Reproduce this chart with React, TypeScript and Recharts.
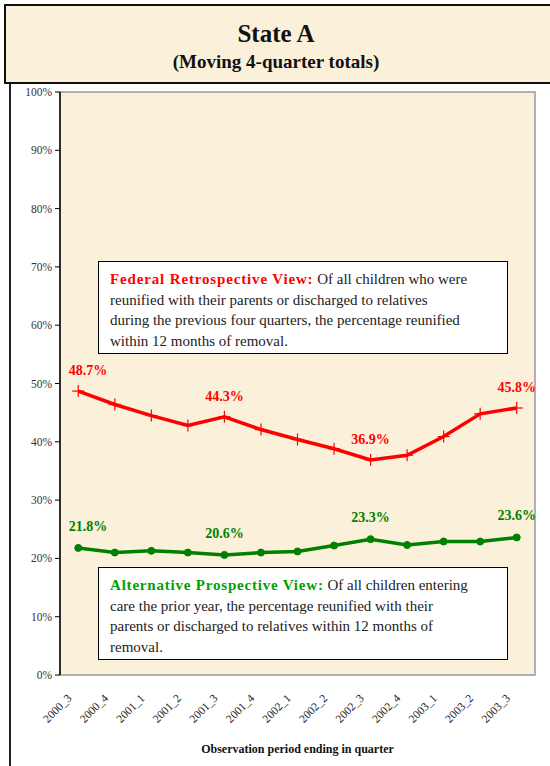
import React from 'react';
import { LineChart, Line, XAxis, YAxis, ReferenceArea, LabelList } from 'recharts';

const quarters = ['2000_3', '2000_4', '2001_1', '2001_2', '2001_3', '2001_4', '2002_1', '2002_2', '2002_3', '2002_4', '2003_1', '2003_2', '2003_3'];
const federal = [48.7, 46.4, 44.5, 42.8, 44.3, 42.1, 40.4, 38.8, 36.9, 37.7, 40.9, 44.8, 45.8];
const alternative = [21.8, 21.0, 21.3, 21.0, 20.6, 21.0, 21.2, 22.2, 23.3, 22.3, 22.9, 22.9, 23.6];
const labeledIdx = [0, 4, 8, 12];
const yTicks = [0, 10, 20, 30, 40, 50, 60, 70, 80, 90, 100];

const data = quarters.map((q, i) => ({
  i,
  q,
  federal: federal[i],
  alternative: alternative[i],
  federalLabel: labeledIdx.includes(i) ? `${federal[i].toFixed(1)}%` : '',
  alternativeLabel: labeledIdx.includes(i) ? `${alternative[i].toFixed(1)}%` : '',
}));
const centerTicks = quarters.map((_, i) => i);
const boundaryTicks = quarters.map((_, i) => i - 0.5).concat([quarters.length - 0.5]);
const xDomain = [-0.5, quarters.length - 0.5];

const SERIF = '"Liberation Serif", "Times New Roman", serif';
const BEIGE = '#FBF0DA';
const RED = '#FF0000';
const GREEN = '#008000';

const PlusDot = (props: any) => {
  const { cx, cy, index } = props;
  if (cx == null || cy == null) return <g key={index} />;
  return (
    <g key={index}>
      <line x1={cx - 6} x2={cx + 6} y1={cy} y2={cy} stroke={RED} strokeWidth={1.2} />
      <line x1={cx} x2={cx} y1={cy - 6} y2={cy + 6} stroke={RED} strokeWidth={1.2} />
    </g>
  );
};

const renderQuarterTick = (props: any) => {
  const { x, y, payload, index } = props;
  const ax = x - 6;
  const ay = y + 24;
  return (
    <text
      key={index}
      x={ax}
      y={ay}
      transform={`rotate(-45 ${ax} ${ay})`}
      textAnchor="end"
      fontFamily={SERIF}
      fontSize={11.5}
      fill="#222"
    >
      {quarters[payload.value]}
    </text>
  );
};

const renderYTick = (props: any) => {
  const { x, y, payload, index } = props;
  return (
    <text key={index} x={x} y={y} dy={4} textAnchor="end" fontFamily={SERIF} fontSize={11.5} fill="#333">
      {`${payload.value}%`}
    </text>
  );
};

const makeLabel = (color: string, off: number) => (p: any) => {
  const vb = p.viewBox || {};
  const rawX = vb.x ?? p.x;
  const y = vb.y ?? p.y;
  if (!p.value) return null;
  const left = (p.parentViewBox && p.parentViewBox.x) || 60;
  const x = Math.max(rawX, left + 28);
  return (
    <text x={x} y={y - off} textAnchor="middle" fontFamily={SERIF} fontSize={14} fontWeight="bold" fill={color}>
      {p.value}
    </text>
  );
};

const boxStyle: React.CSSProperties = {
  position: 'absolute',
  left: 98,
  width: 410,
  height: 93,
  boxSizing: 'border-box',
  border: '1px solid #000',
  background: '#fff',
  fontFamily: SERIF,
  fontSize: 15,
  lineHeight: '20.5px',
  color: '#222',
  padding: '7px 0 0 11px',
  whiteSpace: 'nowrap',
};

export default function App() {
  return (
    <div style={{ position: 'absolute', left: 0, top: 0, width: 550, height: 766, overflow: 'hidden', background: '#fff' }}>
      <div
        style={{
          position: 'absolute',
          left: 4,
          top: 4,
          width: 600,
          height: 80,
          boxSizing: 'border-box',
          border: '2px solid #111',
          background: BEIGE,
        }}
      />
      <div style={{ position: 'absolute', left: 4, top: 4, width: 544, textAlign: 'center', fontFamily: SERIF, fontWeight: 'bold', color: '#111' }}>
        <div style={{ fontSize: 25, marginTop: 16, lineHeight: '28px' }}>State A</div>
        <div style={{ fontSize: 19, marginTop: 2, lineHeight: '24px' }}>(Moving 4-quarter totals)</div>
      </div>
      <div style={{ position: 'absolute', left: 9, top: 84, width: 2, height: 700, background: '#222' }} />
      <div style={{ position: 'absolute', left: 0, top: 0 }}>
        <LineChart width={550} height={766} data={data} margin={{ top: 92, right: 15, bottom: 31, left: 10 }}>
          <ReferenceArea
            x1={xDomain[0]}
            x2={xDomain[1]}
            y1={0}
            y2={100}
            xAxisId="main"
            yAxisId="left"
            fill={BEIGE}
            fillOpacity={1}
            stroke="#999"
            strokeWidth={1.5}
            ifOverflow="visible"
          />
          <XAxis
            xAxisId="bounds"
            type="number"
            domain={xDomain}
            ticks={boundaryTicks}
            tick={false}
            tickLine={{ stroke: '#000' }}
            tickSize={5}
            axisLine={{ stroke: '#000', strokeWidth: 1.5 }}
            height={0}
            allowDataOverflow
          />
          <XAxis
            xAxisId="main"
            dataKey="i"
            type="number"
            domain={xDomain}
            ticks={centerTicks}
            tick={renderQuarterTick}
            tickLine={false}
            tickSize={0}
            tickMargin={0}
            axisLine={false}
            height={60}
            interval={0}
            allowDataOverflow
          />
          <YAxis
            yAxisId="left"
            type="number"
            domain={[0, 100]}
            ticks={yTicks}
            tick={renderYTick}
            tickLine={{ stroke: '#000' }}
            tickSize={5}
            tickMargin={3}
            axisLine={{ stroke: '#000', strokeWidth: 1.5 }}
            width={50}
            interval={0}
          />
          <Line
            xAxisId="main"
            yAxisId="left"
            type="linear"
            dataKey="federal"
            stroke={RED}
            strokeWidth={3.5}
            dot={<PlusDot />}
            isAnimationActive={false}
          >
            <LabelList dataKey="federalLabel" content={makeLabel(RED, 16)} />
          </Line>
          <Line
            xAxisId="main"
            yAxisId="left"
            type="linear"
            dataKey="alternative"
            stroke={GREEN}
            strokeWidth={3.5}
            dot={{ r: 3.5, fill: GREEN, stroke: GREEN, strokeWidth: 1 }}
            isAnimationActive={false}
          >
            <LabelList dataKey="alternativeLabel" content={makeLabel(GREEN, 17)} />
          </Line>
        </LineChart>
      </div>
      <div style={{ ...boxStyle, top: 261 }}>
        <span style={{ color: RED, fontWeight: 'bold', letterSpacing: '0.85px' }}>Federal Retrospective View:</span> Of all children who were
        <br />
        reunified with their parents or discharged to relatives
        <br />
        during the previous four quarters, the percentage reunified
        <br />
        within 12 months of removal.
      </div>
      <div style={{ ...boxStyle, top: 567 }}>
        <span style={{ color: '#00A000', fontWeight: 'bold', letterSpacing: '0.8px' }}>Alternative Prospective View:</span> Of all children entering
        <br />
        care the prior year, the percentage reunified with their
        <br />
        parents or discharged to relatives within 12 months of
        <br />
        removal.
      </div>
      <div
        style={{
          position: 'absolute',
          left: 60,
          width: 475,
          top: 742,
          textAlign: 'center',
          fontFamily: SERIF,
          fontWeight: 'bold',
          fontSize: 12,
          color: '#111',
        }}
      >
        Observation period ending in quarter
      </div>
    </div>
  );
}
